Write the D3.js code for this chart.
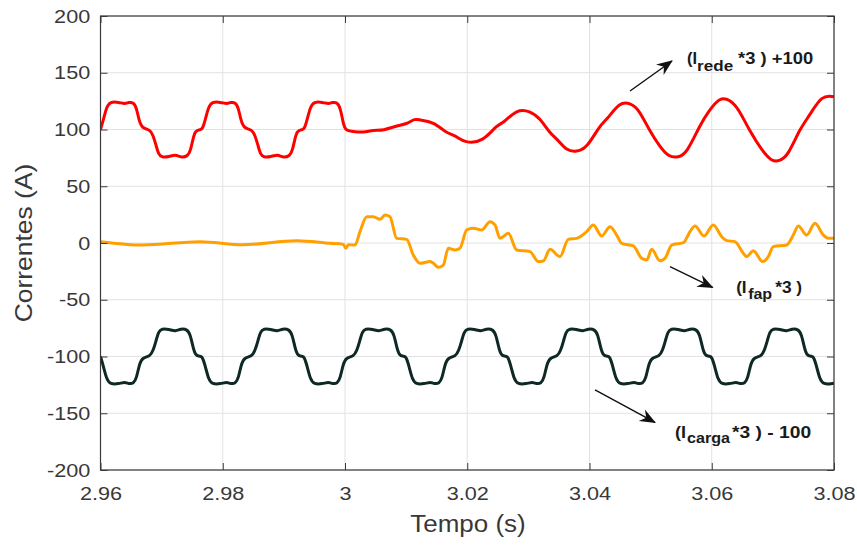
<!DOCTYPE html>
<html>
<head>
<meta charset="utf-8">
<script src="https://cdn.jsdelivr.net/npm/d3@7"></script>
<style>
  body { margin: 0; background: #fff; }
  svg { display: block; font-family: "Liberation Sans", Arial, sans-serif; }
</style>
</head>
<body>
<div id="chart"></div>
<script>
const tempoTicks = [2.96, 2.98, 3.00, 3.02, 3.04, 3.06, 3.08];
const correnteTicks = [-200, -150, -100, -50, 0, 50, 100, 150, 200];

// (I_rede *3) + 100  -- [tempo (s), corrente (A)]
const iRede = [
  [2.96000,100],[2.96050,109],[2.96100,120],[2.96160,124.5],[2.96300,124],[2.96400,122.5],[2.96460,124],[2.96540,124],
  [2.96590,119],[2.96630,108],[2.96680,101],[2.96810,100],[2.96860,95],[2.96910,86],[2.96950,78],[2.97000,75.5],
  [2.97120,76],[2.97230,78],[2.97310,75.5],[2.97420,76],[2.97470,81],[2.97510,91],[2.97550,99],[2.97630,100],
  [2.97667,100],[2.97717,109],[2.97767,120],[2.97827,124.5],[2.97967,124],[2.98067,122.5],[2.98127,124],[2.98207,124],
  [2.98257,119],[2.98297,108],[2.98347,101],[2.98477,100],[2.98527,95],[2.98577,86],[2.98617,78],[2.98667,75.5],
  [2.98787,76],[2.98897,78],[2.98977,75.5],[2.99087,76],[2.99137,81],[2.99177,91],[2.99217,99],[2.99297,100],
  [2.99333,100],[2.99383,109],[2.99433,120],[2.99493,124.5],[2.99633,124],[2.99733,122.5],[2.99793,124],[2.99873,124],
  [2.99923,119],[2.99963,108],
  [3.00000,98.7],[3.00136,98.3],[3.00300,97.2],[3.00463,99.6],[3.00627,99],[3.00845,103.4],[3.01009,104.6],[3.01145,109.9],
  [3.01227,108.1],[3.01445,106.9],[3.01663,96.6],[3.01800,95.2],[3.01963,87.8],[3.02263,89.3],[3.02481,104],[3.02590,105.4],
  [3.02809,118],[3.03027,116.3],[3.03190,109.9],[3.03354,96.6],[3.03463,92.2],[3.03627,81],[3.03790,80.4],[3.03954,83.4],
  [3.04172,104],[3.04281,108.4],[3.04499,124.5],[3.04663,123.1],[3.04798,118.7],[3.04990,98.1],[3.05153,84.8],[3.05289,76],
  [3.05453,75.2],[3.05590,79],[3.05808,104],[3.05944,115.7],[3.06135,128.9],[3.06299,126],[3.06434,118.7],[3.06626,98.1],
  [3.06817,81.9],[3.06981,71.6],[3.07117,72.2],[3.07252,77.5],[3.07444,101],[3.07607,112.8],[3.07799,130.4],[3.08000,128.9]
];

// (I_fap *3)
const iFap = [
  [2.96000,1.2],[2.96695,-1.8],[2.97628,1.2],[2.98331,-1.5],[2.99215,2],[2.99755,-0.3],[2.99972,-1.2],[3.00016,-4.7],
  [3.00054,-1.5],[3.00164,-1.8],[3.00245,10],[3.00355,23.2],[3.00463,23.2],[3.00573,20.9],[3.00654,24.7],[3.00736,23.2],
  [3.00846,4.1],[3.01009,3.2],[3.01117,-10.6],[3.01227,-17.9],[3.01391,-16.4],[3.01445,-17.9],[3.01526,-21.4],[3.01608,-19.4],
  [3.01690,-4.7],[3.01800,-6.2],[3.01881,-4.7],[3.01991,11.5],[3.02099,12.9],[3.02236,11.5],[3.02372,18.8],[3.02454,15.9],
  [3.02536,4.1],[3.02672,8.5],[3.02809,-6.2],[3.03027,-7.6],[3.03162,-16.4],[3.03244,-15.9],[3.03354,-5.6],[3.03517,-12],
  [3.03653,3.2],[3.03791,4.1],[3.03954,10],[3.04062,15.9],[3.04200,6.2],[3.04335,14.4],[3.04445,7.0],[3.04527,-0.3],
  [3.04717,-2.6],[3.04854,-13.5],[3.04936,-15],[3.05018,-5.6],[3.05153,-15.6],[3.05235,-13.5],[3.05345,-1.8],[3.05535,0.3],
  [3.05644,10],[3.05726,15],[3.05873,6.2],[3.06025,15.9],[3.06163,5.6],[3.06245,2.1],[3.06380,1.2],[3.06516,-9.1],
  [3.06572,-12],[3.06680,-6.8],[3.06834,-16.4],[3.06925,-12],[3.07007,-3.2],[3.07226,-1.8],[3.07334,7],[3.07416,15],
  [3.07553,7],[3.07689,17.3],[3.07825,7],[3.07907,4.1],[3.08000,4.1]
];

// (I_carga *3) - 100
const iCarga = [
  [2.96000,-100],[2.96050,-109],[2.96100,-120],[2.96160,-124.5],[2.96300,-124],[2.96400,-122.5],[2.96460,-124],[2.96540,-124],
  [2.96590,-119],[2.96630,-108],[2.96680,-101],[2.96810,-100],[2.96860,-95],[2.96910,-86],[2.96950,-78],[2.97000,-75.5],
  [2.97120,-76],[2.97230,-78],[2.97310,-75.5],[2.97420,-76],[2.97470,-81],[2.97510,-91],[2.97550,-99],[2.97630,-100],
  [2.97667,-100],[2.97717,-109],[2.97767,-120],[2.97827,-124.5],[2.97967,-124],[2.98067,-122.5],[2.98127,-124],[2.98207,-124],
  [2.98257,-119],[2.98297,-108],[2.98347,-101],[2.98477,-100],[2.98527,-95],[2.98577,-86],[2.98617,-78],[2.98667,-75.5],
  [2.98787,-76],[2.98897,-78],[2.98977,-75.5],[2.99087,-76],[2.99137,-81],[2.99177,-91],[2.99217,-99],[2.99297,-100],
  [2.99333,-100],[2.99383,-109],[2.99433,-120],[2.99493,-124.5],[2.99633,-124],[2.99733,-122.5],[2.99793,-124],[2.99873,-124],
  [2.99923,-119],[2.99963,-108],[3.00013,-101],[3.00143,-100],[3.00193,-95],[3.00243,-86],[3.00283,-78],[3.00333,-75.5],
  [3.00453,-76],[3.00563,-78],[3.00643,-75.5],[3.00753,-76],[3.00803,-81],[3.00843,-91],[3.00883,-99],[3.00963,-100],
  [3.01000,-100],[3.01050,-109],[3.01100,-120],[3.01160,-124.5],[3.01300,-124],[3.01400,-122.5],[3.01460,-124],[3.01540,-124],
  [3.01590,-119],[3.01630,-108],[3.01680,-101],[3.01810,-100],[3.01860,-95],[3.01910,-86],[3.01950,-78],[3.02000,-75.5],
  [3.02120,-76],[3.02230,-78],[3.02310,-75.5],[3.02420,-76],[3.02470,-81],[3.02510,-91],[3.02550,-99],[3.02630,-100],
  [3.02667,-100],[3.02717,-109],[3.02767,-120],[3.02827,-124.5],[3.02967,-124],[3.03067,-122.5],[3.03127,-124],[3.03207,-124],
  [3.03257,-119],[3.03297,-108],[3.03347,-101],[3.03477,-100],[3.03527,-95],[3.03577,-86],[3.03617,-78],[3.03667,-75.5],
  [3.03787,-76],[3.03897,-78],[3.03977,-75.5],[3.04087,-76],[3.04137,-81],[3.04177,-91],[3.04217,-99],[3.04297,-100],
  [3.04333,-100],[3.04383,-109],[3.04433,-120],[3.04493,-124.5],[3.04633,-124],[3.04733,-122.5],[3.04793,-124],[3.04873,-124],
  [3.04923,-119],[3.04963,-108],[3.05013,-101],[3.05143,-100],[3.05193,-95],[3.05243,-86],[3.05283,-78],[3.05333,-75.5],
  [3.05453,-76],[3.05563,-78],[3.05643,-75.5],[3.05753,-76],[3.05803,-81],[3.05843,-91],[3.05883,-99],[3.05963,-100],
  [3.06000,-100],[3.06050,-109],[3.06100,-120],[3.06160,-124.5],[3.06300,-124],[3.06400,-122.5],[3.06460,-124],[3.06540,-124],
  [3.06590,-119],[3.06630,-108],[3.06680,-101],[3.06810,-100],[3.06860,-95],[3.06910,-86],[3.06950,-78],[3.07000,-75.5],
  [3.07120,-76],[3.07230,-78],[3.07310,-75.5],[3.07420,-76],[3.07470,-81],[3.07510,-91],[3.07550,-99],[3.07630,-100],
  [3.07667,-100],[3.07717,-109],[3.07767,-120],[3.07827,-124.5],[3.07967,-124],[3.08000,-123.5]
];

const width = 857, height = 547;
const margin = {top: 16, right: 23, bottom: 77, left: 100.5};

const svg = d3.select("#chart")
  .append("svg")
  .attr("width", width)
  .attr("height", height);

svg.append("rect")
  .attr("width", width)
  .attr("height", height)
  .attr("fill", "white");

const x = d3.scaleLinear()
  .domain([2.96, 3.08])
  .range([margin.left, width - margin.right]);

const y = d3.scaleLinear()
  .domain([-200, 200])
  .range([height - margin.bottom, margin.top]);

const axisColor = "#3a3a3a";
const tickFmt = d => String(+d.toFixed(2));

// grid
svg.append("g")
  .selectAll("line")
  .data(tempoTicks)
  .join("line")
    .attr("x1", d => x(d)).attr("x2", d => x(d))
    .attr("y1", y(-200)).attr("y2", y(200))
    .attr("stroke", "#e2e2e2");

svg.append("g")
  .selectAll("line")
  .data(correnteTicks)
  .join("line")
    .attr("x1", x(2.96)).attr("x2", x(3.08))
    .attr("y1", d => y(d)).attr("y2", d => y(d))
    .attr("stroke", "#e2e2e2");

// curves
svg.append("clipPath").attr("id", "plot")
  .append("rect")
  .attr("x", x(2.96)).attr("y", y(200))
  .attr("width", x(3.08) - x(2.96))
  .attr("height", y(-200) - y(200));

const smooth = d3.line()
  .x(d => x(d[0]))
  .y(d => y(d[1]))
  .curve(d3.curveBasis);

const sharp = d3.line()
  .x(d => x(d[0]))
  .y(d => y(d[1]))
  .curve(d3.curveMonotoneX);

const series = [
  {data: iRede, color: "#ff0000", line: smooth},
  {data: iFap, color: "#ffa000", line: sharp},
  {data: iCarga, color: "#0e2925", line: smooth}
];

svg.append("g")
  .attr("clip-path", "url(#plot)")
  .selectAll("path")
  .data(series)
  .join("path")
    .attr("d", d => d.line(d.data))
    .attr("fill", "none")
    .attr("stroke", d => d.color)
    .attr("stroke-width", 3)
    .attr("stroke-linejoin", "round");

// axes (MATLAB box style, ticks inside)
const xAxis = svg.append("g")
  .attr("transform", `translate(0,${y(-200)})`)
  .call(d3.axisBottom(x).tickValues(tempoTicks).tickFormat(tickFmt)
    .tickSizeInner(-7).tickSizeOuter(0).tickPadding(17));

const yAxis = svg.append("g")
  .attr("transform", `translate(${x(2.96)},0)`)
  .call(d3.axisLeft(y).tickValues(correnteTicks).tickFormat(tickFmt)
    .tickSizeInner(-7).tickSizeOuter(0).tickPadding(9));

svg.append("g")
  .attr("transform", `translate(0,${y(200)})`)
  .call(d3.axisTop(x).tickValues(tempoTicks).tickFormat("")
    .tickSizeInner(-7).tickSizeOuter(0));

svg.append("g")
  .attr("transform", `translate(${x(3.08)},0)`)
  .call(d3.axisRight(y).tickValues(correnteTicks).tickFormat("")
    .tickSizeInner(-7).tickSizeOuter(0));

svg.selectAll(".domain").remove();
svg.selectAll(".tick line").attr("stroke", axisColor);

[xAxis, yAxis].forEach(g => g.selectAll("text")
  .attr("fill", "#383838")
  .style("font-size", "19px")
  .attr("transform", "scale(1.14,1)"));

svg.append("rect")
  .attr("x", x(2.96)).attr("y", y(200))
  .attr("width", x(3.08) - x(2.96))
  .attr("height", y(-200) - y(200))
  .attr("fill", "none")
  .attr("stroke", axisColor)
  .attr("stroke-width", 1.2);

// axis titles
svg.append("text")
  .attr("transform", `translate(468,532) scale(1.13,1)`)
  .attr("text-anchor", "middle")
  .attr("fill", "#383838")
  .style("font-size", "23px")
  .text("Tempo (s)");

svg.append("text")
  .attr("transform", `translate(32,${y(0)}) rotate(-90) scale(1.15,1)`)
  .attr("text-anchor", "middle")
  .attr("fill", "#383838")
  .style("font-size", "23px")
  .text("Correntes (A)");

// annotations
svg.append("defs").append("marker")
  .attr("id", "head")
  .attr("viewBox", "-16 -7 18 14")
  .attr("markerWidth", 18).attr("markerHeight", 14)
  .attr("markerUnits", "userSpaceOnUse")
  .attr("orient", "auto")
  .append("path")
    .attr("d", "M1,0 L-15,-6.5 L-10,0 L-15,6.5 Z")
    .attr("fill", "#111");

const arrows = [
  {from: [3.04663, 133.9], to: [3.0535, 160.4]},
  {from: [3.05317, -20.9], to: [3.06015, -39.2]},
  {from: [3.0409, -129.5], to: [3.05072, -158.1]}
];

svg.append("g")
  .selectAll("line")
  .data(arrows)
  .join("line")
    .attr("x1", d => x(d.from[0])).attr("y1", d => y(d.from[1]))
    .attr("x2", d => x(d.to[0])).attr("y2", d => y(d.to[1]))
    .attr("stroke", "#111")
    .attr("stroke-width", 1.4)
    .attr("marker-end", "url(#head)");

const labels = [
  {at: [3.05597, 157.4], parts: [
    {t: "(I", dx: 0, dy: 0, w: 10, fs: 16},
    {t: "rede", dx: 10, dy: 6.7, w: 36, fs: 14},
    {t: "*3 ) +100", dx: 51, dy: 0, w: 75, fs: 16}]},
  {at: [3.06399, -44.1], parts: [
    {t: "(I", dx: 0, dy: 0, w: 10.5, fs: 16},
    {t: "fap", dx: 12, dy: 6, w: 24, fs: 14},
    {t: "*3 )", dx: 39, dy: 0, w: 27, fs: 16}]},
  {at: [3.054, -171.8], parts: [
    {t: "(I", dx: 0, dy: 0, w: 11, fs: 16},
    {t: "carga", dx: 12, dy: 5.5, w: 43, fs: 14},
    {t: "*3 ) - 100", dx: 57, dy: 0, w: 79, fs: 16}]}
];

labels.forEach(l => {
  const g = svg.append("g")
    .attr("transform", `translate(${x(l.at[0])},${y(l.at[1])})`);
  g.selectAll("text")
    .data(l.parts)
    .join("text")
      .attr("x", d => d.dx)
      .attr("y", d => d.dy)
      .attr("textLength", d => d.w)
      .attr("lengthAdjust", "spacingAndGlyphs")
      .attr("fill", "#1a1a1a")
      .style("font-size", d => d.fs + "px")
      .style("font-weight", "bold")
      .text(d => d.t);
});
</script>
</body>
</html>
